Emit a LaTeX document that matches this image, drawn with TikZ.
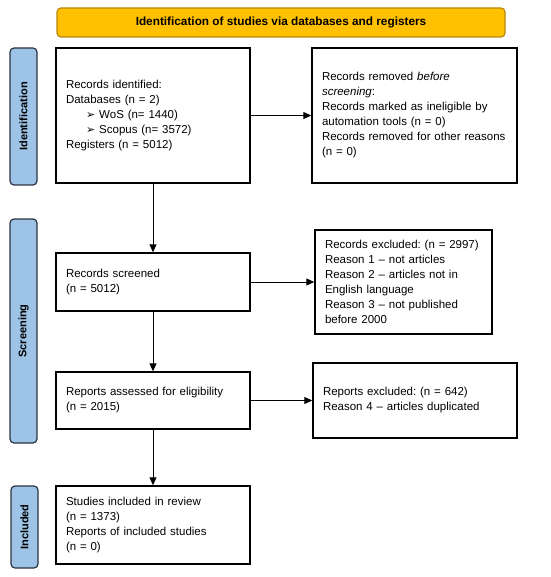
\documentclass[tikz,border=0pt]{standalone}
\usepackage{fontspec}
\setmainfont{Liberation Sans}
\newfontfamily\symfont{DejaVu Sans}
\usetikzlibrary{arrows.meta}
\definecolor{bannerfill}{HTML}{FFC000}
\definecolor{bannerline}{HTML}{B8860B}
\definecolor{sidefill}{HTML}{9DC3E6}
\definecolor{sideline}{HTML}{2A3442}
\frenchspacing
\hyphenpenalty=10000
\exhyphenpenalty=10000
\tikzset{
  box/.style={draw=black, line width=1.4pt, fill=white, align=left, inner xsep=10pt, inner ysep=0pt, font=\fontsize{11.5}{15}\selectfont, anchor=center},
  sidelabel/.style={draw=sideline, fill=sidefill, line width=1.2pt, rounded corners=4pt, minimum height=27pt, font=\bfseries\fontsize{11}{13}\selectfont},
  flow/.style={-{Triangle[length=8pt,width=7pt]}, line width=0.9pt, black},
}
\newcommand{\bul}{\hspace*{20pt}{\symfont\fontsize{11}{11}\selectfont ➢}\hspace{4pt}}
\begin{document}
\begin{tikzpicture}[x=1pt,y=-1pt]
\useasboundingbox (0,0) rectangle (550,577);
% banner
\node[draw=bannerline, fill=bannerfill, line width=1.2pt, rounded corners=4pt, minimum width=448pt, minimum height=29pt, font=\bfseries\fontsize{11.8}{14}\selectfont] (banner) at (281,22.5) {Identification of studies via databases and registers};
% side labels
\node[sidelabel, minimum width=137pt, rotate=90] (sid) at (23.5,116.5) {Identification};
\node[sidelabel, minimum width=224pt, rotate=90] (sscr) at (23.5,331) {Screening};
\node[sidelabel, minimum width=82pt, rotate=90] (sinc) at (24.5,527) {Included};
% boxes
\node[box, text width=174pt, minimum height=135pt] (b1) at (153,115.5) {Records identified:\\Databases (n = 2)\\\bul WoS (n= 1440)\\\bul Scopus (n= 3572)\\Registers (n = 5012)};
\node[box, text width=185pt, minimum height=135pt] (b2) at (414.5,115.5) {Records removed \emph{before}\\\emph{screening}:\\Records marked as ineligible by\\automation tools (n = 0)\\Records removed for other reasons\\(n = 0)};
\node[box, text width=174pt, minimum height=58pt] (b3) at (153,282) {Records screened\\(n = 5012)};
\node[box, text width=157pt, minimum height=104pt] (b4) at (403.5,282) {Records excluded: (n = 2997)\\Reason 1 -- not articles\\Reason 2 -- articles not in\\English language\\Reason 3 -- not published\\before 2000};
\node[box, text width=174pt, minimum height=57pt] (b5) at (153,400.5) {Reports assessed for eligibility\\(n = 2015)};
\node[box, text width=184pt, minimum height=75pt] (b6) at (415,400.5) {Reports excluded: (n = 642)\\Reason 4 -- articles duplicated};
\node[box, text width=174pt, minimum height=78pt] (b7) at (153,525) {Studies included in review\\(n = 1373)\\Reports of included studies\\(n = 0)};
% connectors
\draw[flow] (b1.east) -- (b2.west);
\draw[flow] (b1.south) -- (b3.north);
\draw[flow] (b3.east) -- (b4.west);
\draw[flow] (b3.south) -- (b5.north);
\draw[flow] (b5.east) -- (b6.west);
\draw[flow] (b5.south) -- (b7.north);
\end{tikzpicture}
\end{document}
